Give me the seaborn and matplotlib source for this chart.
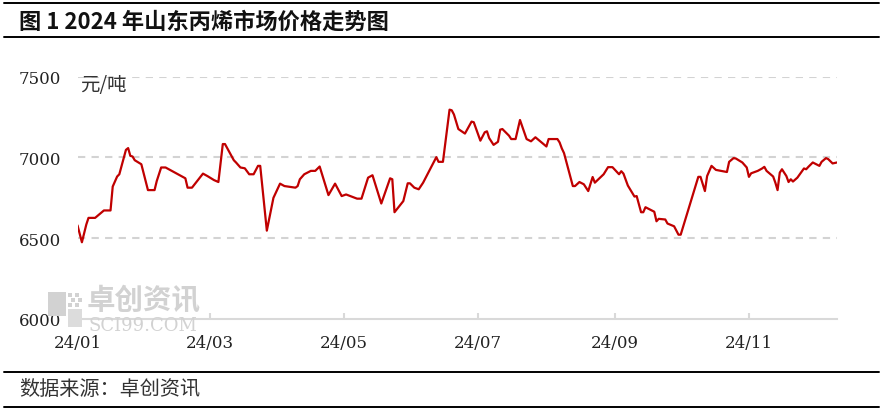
import pandas as pd
import matplotlib
matplotlib.use('Agg')
import matplotlib.pyplot as plt
from matplotlib.patches import Rectangle
from matplotlib.lines import Line2D
import seaborn as sns

# 山东丙烯市场价格 (元/吨)
dates = [
    '2024-01-01', '2024-01-03', '2024-01-05', '2024-01-06', '2024-01-09', '2024-01-13',
    '2024-01-16', '2024-01-17', '2024-01-19', '2024-01-20', '2024-01-23', '2024-01-24',
    '2024-01-25', '2024-01-26', '2024-01-27', '2024-01-30', '2024-02-02', '2024-02-05',
    '2024-02-06', '2024-02-08', '2024-02-10', '2024-02-19', '2024-02-20', '2024-02-22',
    '2024-02-27', '2024-02-29', '2024-03-03', '2024-03-05', '2024-03-07', '2024-03-08',
    '2024-03-12', '2024-03-13', '2024-03-15', '2024-03-17', '2024-03-19', '2024-03-21',
    '2024-03-23', '2024-03-24', '2024-03-27', '2024-03-30', '2024-04-02', '2024-04-04',
    '2024-04-09', '2024-04-10', '2024-04-11', '2024-04-13', '2024-04-16', '2024-04-18',
    '2024-04-20', '2024-04-24', '2024-04-27', '2024-04-30', '2024-05-02', '2024-05-07',
    '2024-05-09', '2024-05-12', '2024-05-14', '2024-05-18', '2024-05-22', '2024-05-23',
    '2024-05-24', '2024-05-28', '2024-05-30', '2024-05-31', '2024-06-02', '2024-06-04',
    '2024-06-06', '2024-06-12', '2024-06-13', '2024-06-15', '2024-06-18', '2024-06-19',
    '2024-06-20', '2024-06-22', '2024-06-25', '2024-06-28', '2024-06-29', '2024-07-02',
    '2024-07-04', '2024-07-05', '2024-07-06', '2024-07-08', '2024-07-10', '2024-07-11',
    '2024-07-12', '2024-07-15', '2024-07-16', '2024-07-18', '2024-07-20', '2024-07-23',
    '2024-07-25', '2024-07-27', '2024-08-01', '2024-08-02', '2024-08-06', '2024-08-07',
    '2024-08-08', '2024-08-09', '2024-08-13', '2024-08-14', '2024-08-16', '2024-08-18',
    '2024-08-20', '2024-08-22', '2024-08-23', '2024-08-27', '2024-08-29', '2024-08-31',
    '2024-09-03', '2024-09-04', '2024-09-05', '2024-09-07', '2024-09-10', '2024-09-11',
    '2024-09-13', '2024-09-14', '2024-09-15', '2024-09-19', '2024-09-20', '2024-09-21',
    '2024-09-24', '2024-09-25', '2024-09-28', '2024-09-30', '2024-10-01', '2024-10-09',
    '2024-10-10', '2024-10-12', '2024-10-13', '2024-10-15', '2024-10-17', '2024-10-22',
    '2024-10-23', '2024-10-25', '2024-10-26', '2024-10-29', '2024-10-31', '2024-11-01',
    '2024-11-02', '2024-11-05', '2024-11-07', '2024-11-08', '2024-11-09', '2024-11-12',
    '2024-11-13', '2024-11-14', '2024-11-15', '2024-11-16', '2024-11-18', '2024-11-19',
    '2024-11-20', '2024-11-21', '2024-11-23', '2024-11-26', '2024-11-27', '2024-11-28',
    '2024-11-30', '2024-12-03', '2024-12-04', '2024-12-06', '2024-12-07', '2024-12-09',
    '2024-12-11',
]
prices = [
    6580, 6475, 6585, 6626, 6626, 6672,
    6672, 6820, 6882, 6896, 7047, 7058,
    7010, 7006, 6983, 6958, 6798, 6798,
    6854, 6938, 6938, 6871, 6813, 6813,
    6900, 6885, 6860, 6848, 7083, 7083,
    6983, 6969, 6938, 6933, 6896, 6896,
    6948, 6948, 6547, 6750, 6838, 6823,
    6813, 6823, 6865, 6896, 6917, 6917,
    6944, 6767, 6838, 6761, 6771, 6745,
    6745, 6875, 6890, 6715, 6871, 6865,
    6661, 6730, 6840, 6840, 6813, 6803,
    6844, 7002, 6973, 6973, 7296, 7292,
    7266, 7176, 7148, 7222, 7218, 7104,
    7156, 7162, 7120, 7078, 7097, 7172,
    7176, 7135, 7114, 7114, 7232, 7114,
    7100, 7125, 7068, 7114, 7114, 7093,
    7056, 7027, 6823, 6823, 6848, 6834,
    6792, 6879, 6844, 6896, 6940, 6940,
    6896, 6915, 6900, 6826, 6758, 6761,
    6661, 6661, 6692, 6664, 6605, 6620,
    6616, 6591, 6574, 6522, 6522, 6880,
    6880, 6792, 6885, 6948, 6923, 6910,
    6973, 6996, 6994, 6969, 6938, 6880,
    6902, 6917, 6932, 6942, 6917, 6882,
    6844, 6798, 6906, 6927, 6885, 6848,
    6865, 6851, 6875, 6932, 6927, 6942,
    6969, 6948, 6973, 6996, 6990, 6963,
    6969,
]

tick_dates = ['2024-01-01', '2024-03-01', '2024-05-01', '2024-07-01', '2024-09-01', '2024-11-01']
tick_labels = ['24/01', '24/03', '24/05', '24/07', '24/09', '24/11']
y_ticks = [6000, 6500, 7000, 7500]

title = '图 1 2024 年山东丙烯市场价格走势图'
unit = '元/吨'
source = '数据来源：卓创资讯'

sns.set_theme(style='white')
plt.rcParams['font.family'] = ['Noto Sans CJK SC', 'DejaVu Sans']

W, H = 885, 414
fig = plt.figure(figsize=(W / 100, H / 100), dpi=100)


def fx(px):
    return px / W


def fy(py):
    return 1 - py / H


ax = fig.add_axes([fx(77.5), fy(320), fx(837) - fx(77.5), fy(77.7) - fy(320)])

# watermark (drawn first so the axis text sits on top)
wm = '#d2d2d2'
fig.add_artist(Rectangle((fx(48), fy(317)), fx(18), fy(293) - fy(317), color=wm, lw=0))
fig.add_artist(Rectangle((fx(68), fy(328)), fx(14), fy(310) - fy(328), color='#dcdcdc', lw=0))
for sx, sy in [(68, 294), (75, 294), (71, 299), (78, 299), (68, 304), (75, 304)]:
    fig.add_artist(Rectangle((fx(sx), fy(sy + 4)), fx(4), fy(sy) - fy(sy + 4), color=wm, lw=0))
fig.text(fx(87), fy(300), '卓创资讯', fontsize=20.5, fontweight='bold', color=wm,
         va='center', ha='left', zorder=0)
fig.text(fx(88), fy(326), 'SCI99.COM', fontsize=13, family='DejaVu Serif', color=wm,
         va='center', ha='left', zorder=0)
ax.patch.set_alpha(0)

df = pd.DataFrame({'date': pd.to_datetime(dates), 'price': prices})
for v in y_ticks[1:]:
    ax.axhline(v, color='#d3d3d3', lw=1.5, ls=(0, (3.5, 3)), zorder=0)
sns.lineplot(data=df, x='date', y='price', ax=ax, color='#c00000', linewidth=1.6, zorder=3)

ax.set_xlim(pd.Timestamp('2024-01-01'), pd.Timestamp('2024-12-11'))
ax.set_ylim(6000, 7500)
ax.set_yticks(y_ticks)
ax.set_xticks(pd.to_datetime(tick_dates))
ax.set_xticklabels(tick_labels)
ax.set_xlabel('')
ax.set_ylabel('')
for s in ['top', 'right', 'left']:
    ax.spines[s].set_visible(False)
ax.spines['bottom'].set_color('#d9d9d9')
ax.spines['bottom'].set_linewidth(1.5)
ax.tick_params(axis='x', direction='in', length=4, width=1.5, color='#d9d9d9', pad=11,
               labelsize=12, labelcolor='#222222', bottom=True)
ax.tick_params(axis='y', length=0, pad=12, labelsize=12, labelcolor='#222222')
for lab in ax.get_xticklabels() + ax.get_yticklabels():
    lab.set_family('DejaVu Serif')

# unit label
fig.text(fx(80), fy(86), unit, fontsize=14, color='#333333', va='center', ha='left')

# title block and source block with horizontal rules
for py in [4, 38, 373, 408]:
    fig.add_artist(Line2D([fx(4), fx(879)], [fy(py), fy(py)], color='black', lw=1.4))
fig.text(fx(19), fy(22), title, fontsize=16, fontweight='bold', color='#111111',
         va='center', ha='left')
fig.text(fx(19), fy(390), source, fontsize=14.5, color='#333333', va='center', ha='left')

fig.savefig('out.png', dpi=100)
